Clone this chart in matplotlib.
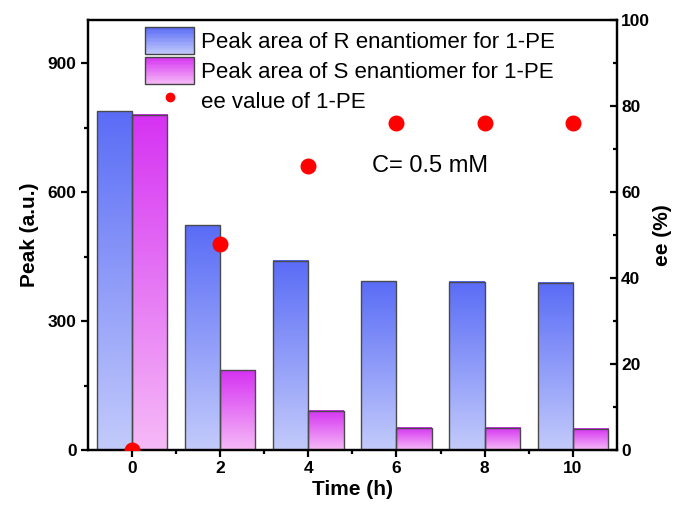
import numpy as np
import matplotlib
matplotlib.use("Agg")
import matplotlib.pyplot as plt
from matplotlib.colors import LinearSegmentedColormap
from matplotlib.patches import Rectangle
from matplotlib.legend_handler import HandlerBase
from matplotlib.lines import Line2D

plt.rcParams['font.family'] = ['Liberation Sans', 'DejaVu Sans']

# data
time_h = [0, 2, 4, 6, 8, 10]
peak_r = [788, 523, 440, 393, 391, 389]
peak_s = [780, 186, 91, 52, 52, 49]
ee_val = [0, 48, 66, 76, 76, 76]
labels = ['Peak area of R enantiomer for 1-PE',
          'Peak area of S enantiomer for 1-PE',
          'ee value of 1-PE']

# gradient colours (bottom -> top)
blue_cmap = LinearSegmentedColormap.from_list('b', ['#c3cbfb', '#5a6cf6'])
pink_cmap = LinearSegmentedColormap.from_list('p', ['#f6baf7', '#d532f2'])
grad = np.linspace(0, 1, 256).reshape(-1, 1)

bar_w = 0.8


class GradientHandler(HandlerBase):
    # legend box filled with the same vertical gradient as the bars
    def __init__(self, cmap):
        super().__init__()
        self.cmap = cmap

    def create_artists(self, legend, orig_handle, xdescent, ydescent,
                       width, height, fontsize, trans):
        arts = []
        n = 20
        for i in range(n):
            r = Rectangle((-xdescent, -ydescent + height * i / n), width, height / n + 0.3,
                          facecolor=self.cmap((i + 0.5) / n), edgecolor='none',
                          transform=trans)
            arts.append(r)
        frame = Rectangle((-xdescent, -ydescent), width, height, facecolor='none',
                          edgecolor='#444444', linewidth=1.0, transform=trans)
        arts.append(frame)
        return arts


fig = plt.figure(figsize=(6.75, 5.15), dpi=100)
ax = fig.add_axes([0.130, 0.126, 0.784, 0.835])

x = np.array(time_h, dtype=float)
bars_r = ax.bar(x - bar_w / 2, peak_r, width=bar_w, facecolor='none',
                edgecolor='#4a4a4a', linewidth=1.0, zorder=3)
bars_s = ax.bar(x + bar_w / 2, peak_s, width=bar_w, facecolor='none',
                edgecolor='#4a4a4a', linewidth=1.0, zorder=3)

for bars, cmap in ((bars_r, blue_cmap), (bars_s, pink_cmap)):
    for b in bars:
        x0, y0 = b.get_x(), b.get_y()
        ax.imshow(grad, extent=[x0, x0 + b.get_width(), y0, y0 + b.get_height()],
                  origin='lower', aspect='auto', cmap=cmap, zorder=2)

ax.set_xlim(-1, 11)
ax.set_ylim(0, 1000)
ax.set_xticks(time_h)
ax.set_xticks([1, 3, 5, 7, 9], minor=True)
ax.set_yticks([0, 300, 600, 900])
ax.set_yticks([150, 450, 750], minor=True)
ax.set_xlabel('Time (h)', fontsize=15, fontweight='bold', labelpad=3)
ax.set_ylabel('Peak (a.u.)', fontsize=15, fontweight='bold', labelpad=6)

ax2 = ax.twinx()
dots = ax2.scatter(time_h, ee_val, s=110, color='#ff0000', zorder=5)
dots.set_clip_path(ax2.patch)
ax2.set_ylim(0, 100)
ax2.set_yticks([0, 20, 40, 60, 80, 100])
ax2.set_yticks([10, 30, 50, 70, 90], minor=True)
ax2.set_ylabel('ee (%)', fontsize=15, fontweight='bold', labelpad=2)

for a in (ax, ax2):
    for s in a.spines.values():
        s.set_linewidth(1.6)
    a.tick_params(which='major', length=5, width=1.6, labelsize=12.5, pad=3)
    a.tick_params(which='minor', length=3, width=1.6)
    for t in a.get_xticklabels() + a.get_yticklabels():
        t.set_fontweight('bold')
ax.tick_params(axis='both', which='both', direction='out')
ax2.tick_params(axis='y', which='both', direction='in')

ax2.text(6.76, 66, 'C= 0.5 mM', fontsize=17, ha='center', va='center')

h1 = Rectangle((0, 0), 1, 1)
h2 = Rectangle((0, 0), 1, 1)
h3 = Line2D([], [], linestyle='none', marker='o', color='#ff0000', markersize=6)
ax2.legend([h1, h2, h3], labels, loc='upper left', bbox_to_anchor=(0.071, 1.03),
           frameon=False, fontsize=16, handlelength=2.2, handleheight=1.5,
           labelspacing=0.12, handletextpad=0.32, borderpad=0.4,
           handler_map={h1: GradientHandler(blue_cmap), h2: GradientHandler(pink_cmap)})

fig.savefig('out.png', dpi=100)
